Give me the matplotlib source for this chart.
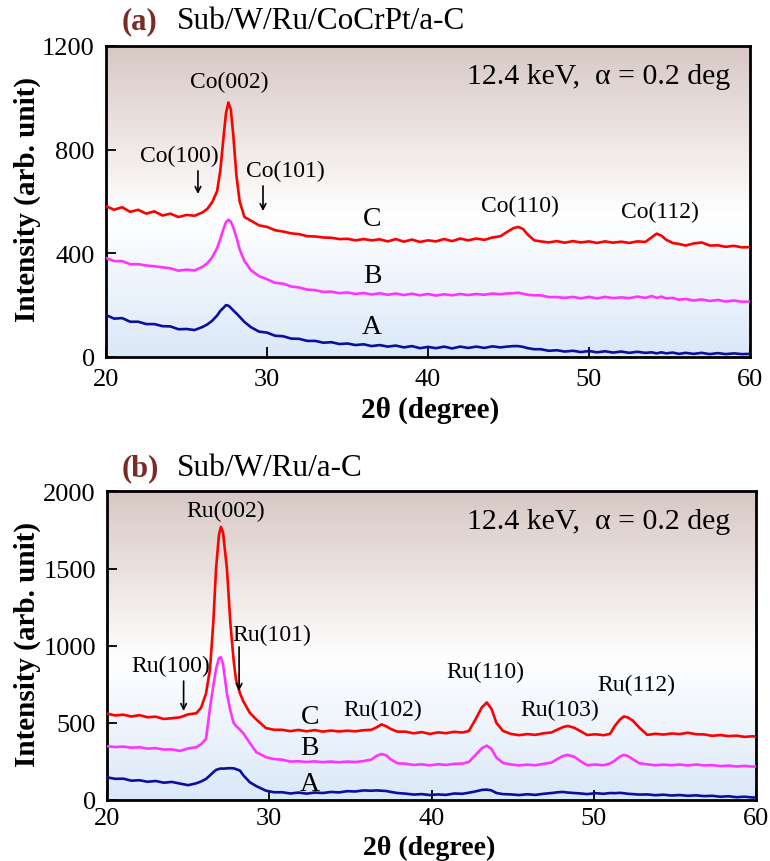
import numpy as np
import matplotlib
matplotlib.use("Agg")
import matplotlib.pyplot as plt
from matplotlib.colors import LinearSegmentedColormap

plt.rcParams['font.family'] = ['Liberation Serif', 'DejaVu Serif']

# ---- panel (a): Sub/W/Ru/CoCrPt/a-C ----
xa = [20, 20.5, 21, 21.5, 22, 22.5, 23, 23.5, 24, 24.5, 25, 25.5, 26,
      26.3, 26.6, 26.9, 27.1, 27.3, 27.45, 27.6, 27.75, 27.9, 28.1, 28.3, 28.6,
      29, 29.5, 30, 30.5, 31, 31.5, 32, 32.5, 33, 33.5, 34, 34.5, 35, 35.5,
      36, 36.5, 37, 37.5, 38, 38.5, 39, 39.5, 40, 40.5, 41, 41.5, 42, 42.5,
      43, 43.5, 44, 44.5,
      44.9, 45.3, 45.6, 45.9, 46.2, 46.6,
      47, 47.5, 48, 48.5, 49, 49.5, 50, 50.5, 51, 51.5, 52, 52.5, 53, 53.5,
      53.9, 54.2, 54.5, 54.8, 55.2, 55.6,
      56, 56.5, 57, 57.5, 58, 58.5, 59, 59.5, 60]
a_C = [582, 568, 578, 560, 568, 553, 562, 546, 553, 540, 548, 545, 558,
       572, 598, 640, 720, 850, 940, 982, 955, 860, 700, 600, 540,
       526, 508, 502, 489, 484, 477, 474, 466, 465, 461, 460, 455, 456, 450,
       455, 450, 454, 446, 455, 445, 453, 444, 450, 446, 455, 447, 457, 450,
       457, 452, 461, 466,
       482, 497, 502, 494, 472, 450,
       446, 442, 447, 441, 447, 442, 446, 440, 446, 441, 445, 440, 446, 444,
       462, 476, 468, 452, 440, 436,
       430, 438, 442, 430, 431, 425, 429, 423, 424]
a_B = [382, 370, 370, 358, 358, 353, 350, 346, 342, 333, 337, 334, 348,
       362, 385, 420, 455, 495, 520, 530, 522, 500, 462, 415, 370,
       335, 312, 300, 286, 283, 272, 268, 260, 258, 251, 252, 246, 249, 243,
       247, 241, 246, 240, 245, 239, 244, 238, 243, 237, 242, 238, 243, 239,
       243, 240, 245, 242,
       245, 246, 248, 244, 240, 238,
       238, 231, 231, 228, 232, 226, 232, 226, 232, 227, 230, 227, 233, 228,
       235, 228, 233, 226, 228, 221,
       224, 218, 222, 216, 220, 214, 218, 213, 214]
a_A = [162, 148, 150, 136, 136, 127, 127, 119, 118, 107, 108, 104, 116,
       126, 140, 160, 178, 190, 200, 198, 190, 180, 168, 155, 135,
       115, 98, 94, 82, 80, 71, 70, 62, 62, 55, 57, 50, 52, 46,
       49, 42, 46, 40, 44, 37, 42, 34, 39, 34, 40, 33, 40, 35,
       40, 35, 41, 37,
       40, 42, 42, 39, 34, 30,
       30, 24, 26, 21, 24, 19, 23, 18, 22, 17, 21, 16, 20, 16,
       18, 14, 18, 14, 17, 12,
       16, 12, 16, 11, 15, 11, 14, 11, 12]

# ---- panel (b): Sub/W/Ru/a-C ----
xb = [20, 20.5, 21, 21.5, 22, 22.5, 23, 23.5, 24, 24.5, 25, 25.5,
      25.8, 26.1, 26.35, 26.55, 26.72, 26.9, 27.02, 27.15, 27.39, 27.6, 27.8,
      27.95, 28.2, 28.4, 28.8, 29.2,
      29.8, 30.3, 30.8, 31.3, 31.8, 32.3, 32.8, 33.3, 33.8, 34.3, 34.8, 35.3,
      35.8, 36.3,
      36.6, 36.92, 37.2, 37.5, 37.9,
      38.4, 38.9, 39.4, 39.9, 40.4, 40.9, 41.4, 41.9, 42.3,
      42.7, 43.1, 43.41, 43.7, 44.0, 44.4, 44.9,
      45.4, 45.9, 46.4, 46.9, 47.4,
      47.8, 48.1, 48.4, 48.8, 49.2,
      49.6, 50.1, 50.6, 51.0,
      51.3, 51.6, 51.85, 52.1, 52.4, 52.8,
      53.3, 53.8, 54.3, 54.8, 55.3, 55.8, 56.3, 56.8, 57.3, 57.8, 58.3, 58.8,
      59.3, 59.8, 60]
b_C = [560, 548, 553, 541, 550, 536, 540, 525, 530, 536, 555, 562,
       598, 690, 850, 1150, 1500, 1720, 1770, 1735, 1500, 1150, 909,
       779, 690, 640, 565, 522,
       466, 455, 455, 446, 454, 445, 453, 443, 450, 444, 449, 445,
       452, 455,
       470, 490, 478, 460, 443,
       443, 432, 440, 428, 438, 433, 442, 437, 447,
       520, 600, 632, 590, 500, 448, 428,
       420, 427, 422, 432, 438,
       458, 472, 480, 468, 445,
       421, 426, 420, 428,
       480, 520, 541, 535, 515, 470,
       422, 429, 424, 431, 427, 436, 426, 425, 416, 421, 414, 417,
       409, 413, 410]
b_B = [348, 343, 346, 339, 342, 333, 336, 327, 328, 318, 334, 342,
       362, 395, 600, 740, 850, 920, 925, 880, 690, 580, 500,
       480, 455, 432, 370, 310,
       277, 265, 261, 249, 251, 246, 250, 245, 249, 244, 249, 246,
       252, 262,
       285, 298, 290, 262, 238,
       235, 227, 231, 224, 232, 227, 234, 236, 246,
       290, 335, 352, 330, 275, 240, 230,
       224, 229, 225, 234, 242,
       268, 285, 292, 280, 250,
       225, 230, 225, 236,
       255, 280, 292, 285, 265, 238,
       231, 225, 229, 225, 230, 223, 230, 224, 226, 219, 223, 217,
       221, 216, 218]
b_A = [147, 137, 138, 125, 128, 118, 123, 112, 117, 106, 96, 108,
       120, 136, 160, 180, 195, 201, 204, 203, 205, 206, 205,
       200, 190, 160, 115, 90,
       60, 50, 50, 42, 48, 41, 48, 45, 52, 49, 57, 55,
       62, 60,
       62, 60, 58, 52, 45,
       41, 35, 38, 32, 36, 33, 42, 40, 47,
       55, 65, 67, 62, 45, 38, 36,
       32, 37, 33, 40, 45,
       50, 52, 48, 45, 42,
       38, 44, 40, 45,
       44, 46, 44, 40, 38, 35,
       36, 31, 34, 29, 32, 27, 30, 25, 27, 21, 24, 18,
       21, 16, 17]

peaks_a = ["Co(002)", "Co(100)", "Co(101)", "Co(110)", "Co(112)"]
peaks_b = ["Ru(002)", "Ru(100)", "Ru(101)", "Ru(102)", "Ru(110)",
           "Ru(103)", "Ru(112)"]

RED = "#ff0000"
MAG = "#ff33ff"
BLUE = "#0a0f9c"
bg = LinearSegmentedColormap.from_list(
    "bg", [(0, "#dbe8f8"), (0.45, "#ffffff"), (1, "#d8c8c4")])

fig = plt.figure(figsize=(7.7, 8.62), dpi=100)
ax1 = fig.add_axes([0.1377, 0.5847, 0.8363, 0.3608])
ax2 = fig.add_axes([0.1390, 0.0708, 0.8428, 0.3579])


def style(ax, ymax, ystep):
    grad = np.linspace(0, 1, 256).reshape(-1, 1)
    ax.imshow(grad, aspect="auto", cmap=bg, extent=[0, 1, 0, 1],
              transform=ax.transAxes, origin="lower", zorder=0)
    ax.set_xlim(20, 60)
    ax.set_ylim(0, ymax)
    ax.set_xticks(np.arange(20, 61, 10))
    ax.set_yticks(np.arange(0, ymax + 1, ystep))
    ax.tick_params(direction="in", length=7, width=1.3, labelsize=19,
                   pad=8, top=False, right=False)
    for s in ax.spines.values():
        s.set_linewidth(2)


def arrow(ax, x, y0, y1):
    ax.annotate("", xy=(x, y1), xytext=(x, y0),
                arrowprops=dict(arrowstyle="->", lw=1.2, color="black",
                                shrinkA=0, shrinkB=0))


# panel (a)
style(ax1, 1200, 400)
ax1.plot(xa, a_A, color=BLUE, lw=1.9, zorder=3)
ax1.plot(xa, a_B, color=MAG, lw=1.9, zorder=3)
ax1.plot(xa, a_C, color=RED, lw=1.9, zorder=3)
lab = dict(fontsize=17, ha="center", va="center")
ax1.text(27.64, 1065, peaks_a[0], **lab)
ax1.text(24.53, 776, peaks_a[1], **lab)
ax1.text(31.12, 718, peaks_a[2], **lab)
ax1.text(45.7, 583, peaks_a[3], **lab)
ax1.text(54.4, 563, peaks_a[4], **lab)
arrow(ax1, 25.71, 718, 629)
arrow(ax1, 29.75, 660, 563)
for name, y in zip(["C", "B", "A"], [533, 313, 116]):
    ax1.text(36.52, y, name, fontsize=20, ha="center", va="center")
ax1.text(0.969, 0.9035, "12.4 keV,  α = 0.2 deg", fontsize=21.5,
         ha="right", va="center", transform=ax1.transAxes)

# panel (b)
style(ax2, 2000, 500)
ax2.tick_params(axis="x", pad=5)
ax2.plot(xb, b_A, color=BLUE, lw=1.9, zorder=3)
ax2.plot(xb, b_B, color=MAG, lw=1.9, zorder=3)
ax2.plot(xb, b_C, color=RED, lw=1.9, zorder=3)
ax2.text(27.29, 1874, peaks_b[0], **lab)
ax2.text(23.92, 875, peaks_b[1], **lab)
ax2.text(30.17, 1070, peaks_b[2], **lab)
ax2.text(37.02, 590, peaks_b[3], **lab)
ax2.text(43.33, 830, peaks_b[4], **lab)
ax2.text(47.92, 590, peaks_b[5], **lab)
ax2.text(52.64, 746, peaks_b[6], **lab)
arrow(ax2, 24.72, 771, 577)
arrow(ax2, 28.14, 992, 707)
for name, y in zip(["C", "B", "A"], [538, 337, 110]):
    ax2.text(32.49, y, name, fontsize=20, ha="center", va="center")
ax2.text(0.96, 0.9035, "12.4 keV,  α = 0.2 deg", fontsize=21.5,
         ha="right", va="center", transform=ax2.transAxes)

# titles and axis labels
for yt, tag, txt in [(0.9745, "(a)", "Sub/W/Ru/CoCrPt/a-C"),
                     (0.456, "(b)", "Sub/W/Ru/a-C")]:
    fig.text(0.158, yt, tag, color="#7b2b27", fontsize=22,
             fontweight="bold", va="center")
    fig.text(0.230, yt, txt, fontsize=22.5, va="center")
for yc in [0.768, 0.252]:
    fig.text(0.036, yc, "Intensity (arb. unit)", fontsize=21,
             fontweight="bold", rotation=90, ha="center", va="center")
fig.text(0.558, 0.524, "2θ (degree)", fontsize=21, fontweight="bold",
         ha="center", va="center")
fig.text(0.558, 0.001, "2θ (degree)", fontsize=20, fontweight="bold",
         ha="center", va="bottom")

fig.savefig("out.png", dpi=100)
